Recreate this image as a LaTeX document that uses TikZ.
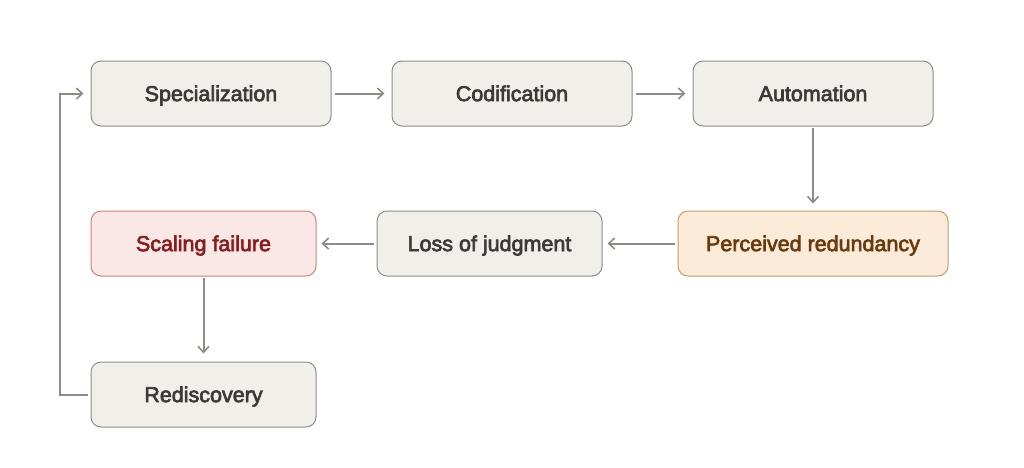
\documentclass[tikz,border=0pt]{standalone}
\usepackage{fontspec}
\setmainfont{Liberation Sans}
\newfontfamily\medfont{Liberation Sans}[FakeBold=3]
\usetikzlibrary{arrows.meta}
\definecolor{nfill}{HTML}{F1EFEA}
\definecolor{nstroke}{HTML}{8F8D86}
\definecolor{ntext}{HTML}{3A3A37}
\definecolor{ofill}{HTML}{FBEBD8}
\definecolor{ostroke}{HTML}{C69C62}
\definecolor{otext}{HTML}{6B3A0C}
\definecolor{rfill}{HTML}{FAE8E7}
\definecolor{rstroke}{HTML}{D27E80}
\definecolor{rtext}{HTML}{8A1C1E}
\definecolor{arr}{HTML}{8E8C86}
\tikzset{
  box/.style={draw=nstroke, fill=nfill, text=ntext, line width=1pt, rounded corners=10pt,
    minimum height=65pt, inner sep=0pt, text height=15.2pt, text depth=0pt,
    font=\medfont\fontsize{21.5}{24}\selectfont},
  wbox/.style={box, minimum width=240pt},
  nbox/.style={box, minimum width=225pt},
  obox/.style={box, minimum width=270pt, draw=ostroke, fill=ofill, text=otext},
  rbox/.style={nbox, draw=rstroke, fill=rfill, text=rtext},
  conn/.style={draw=arr, line width=2pt, -{Straight Barb[length=6pt,width=11pt,line width=1.6pt]}},
}
\begin{document}
\begin{tikzpicture}[x=1pt,y=-1pt]
\path[use as bounding box, fill=white] (0,0) rectangle (1024,467);
\node[wbox] (spec) at (211,93.5) {Specialization};
\node[wbox] (cod) at (512,93.5) {Codification};
\node[wbox] (auto) at (813,93.5) {Automation};
\node[obox] (perc) at (813,243.5) {Perceived redundancy};
\node[nbox] (loss) at (489.5,243.5) {Loss of judgment};
\node[rbox] (scal) at (203.5,243.5) {Scaling failure};
\node[nbox] (redi) at (203.5,394.5) {Rediscovery};
\coordinate (c1) at (60,394.5);
\coordinate (c2) at (60,93.5);
\draw[conn, shorten <=3pt, shorten >=7pt] (spec) -- (cod);
\draw[conn, shorten <=3pt, shorten >=7pt] (cod) -- (auto);
\draw[conn, shorten <=1pt, shorten >=7pt] (auto) -- (perc);
\draw[conn, shorten <=3pt, shorten >=5pt] (perc) -- (loss);
\draw[conn, shorten <=3pt, shorten >=5pt] (loss) -- (scal);
\draw[conn, shorten <=1pt, shorten >=8pt] (scal) -- (redi);
\draw[conn, shorten <=3pt, shorten >=7pt] (redi.west) -- (c1) -- (c2) -- (spec.west);
\end{tikzpicture}
\end{document}
